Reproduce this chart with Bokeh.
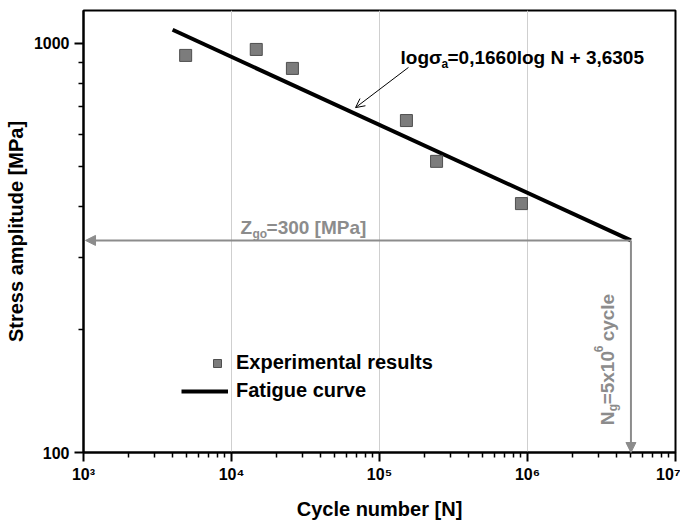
import math
from bokeh.plotting import figure
from bokeh.models import Label, Arrow, NormalHead, OpenHead, Legend, LegendItem, FixedTicker
from bokeh.embed import file_html
from bokeh.resources import INLINE

# ---- data ----
cycles = [4900, 14700, 25800, 152000, 243000, 910000]
stress = [935, 967, 869, 648, 515, 406]

curve_cycles = [4000, 5.0e6]
curve_stress = [1080, 330]

limit_cycles = 5.0e6      # N_g
limit_stress = 330        # level of the Z_go arrow as drawn

x_tick_values = [1000, 10000, 100000, 1000000, 10000000]
x_tick_labels = ["10³", "10⁴", "10⁵", "10⁶", "10⁷"]
y_tick_values = [100, 1000]
y_tick_labels = ["100", "1000"]

FONT = "Liberation Sans"
GRAY = "#8c8c8c"

p = figure(width=680, height=523, x_axis_type="log", y_axis_type="log",
           x_range=(1e3, 1e7), y_range=(100, 1204),
           output_backend="svg", toolbar_location=None,
           min_border_left=83, min_border_right=5, min_border_top=10, min_border_bottom=71,
           background_fill_color="white", border_fill_color="white")

p.outline_line_color = "black"
p.outline_line_width = 2
p.outline_line_alpha = 1

p.ygrid.visible = False
p.xgrid.grid_line_color = "#cfcfcf"
p.xgrid.grid_line_width = 1

x_minor = [m * 10 ** k for k in range(3, 7) for m in range(2, 10)]
y_minor = [m * 100 for m in range(2, 10)]
p.xaxis.ticker = FixedTicker(ticks=x_tick_values, minor_ticks=x_minor)
p.yaxis.ticker = FixedTicker(ticks=y_tick_values, minor_ticks=y_minor)
p.xgrid.ticker = FixedTicker(ticks=x_tick_values)

for ax in (p.xaxis[0], p.yaxis[0]):
    ax.axis_line_width = 2
    ax.major_tick_line_width = 2
    ax.minor_tick_line_width = 1.5
    ax.major_tick_out = 9
    ax.major_tick_in = 0
    ax.minor_tick_out = 5
    ax.minor_tick_in = 0
    ax.major_label_text_font = FONT
    ax.major_label_text_font_style = "bold"
    ax.major_label_text_font_size = "16px"
    ax.major_label_text_color = "black"
    ax.axis_label_text_font = FONT
    ax.axis_label_text_font_style = "bold"
    ax.axis_label_text_font_size = "20px"
    ax.axis_label_text_color = "black"

p.xaxis.major_label_overrides = dict(zip(x_tick_values, x_tick_labels))
p.yaxis.major_label_overrides = dict(zip(y_tick_values, y_tick_labels))
p.xaxis.axis_label = "Cycle number [N]"
p.yaxis.axis_label = "Stress amplitude [MPa]"
p.xaxis.major_label_standoff = 4
p.yaxis.major_label_standoff = 5
p.xaxis.axis_label_standoff = 12
p.yaxis.axis_label_standoff = 4

# gray limit arrows
p.add_layout(Arrow(x_start=limit_cycles, y_start=limit_stress, x_end=1032, y_end=limit_stress,
                   line_color=GRAY, line_width=2,
                   end=NormalHead(size=10, fill_color=GRAY, line_color=GRAY, line_width=1)))
p.add_layout(Arrow(x_start=limit_cycles, y_start=limit_stress, x_end=limit_cycles, y_end=100,
                   line_color=GRAY, line_width=2,
                   end=NormalHead(size=10, fill_color=GRAY, line_color=GRAY, line_width=1)))

ln = p.line(curve_cycles, curve_stress, line_color="black", line_width=4)
sc = p.scatter(cycles, stress, marker="square", size=12,
               fill_color="#7c7c7c", line_color="#4f4f4f", line_width=1)

legend_style = dict(border_line_color=None, background_fill_alpha=0,
                    label_text_font=FONT, label_text_font_style="bold", label_text_font_size="20px",
                    label_text_color="black", glyph_height=20, label_height=20,
                    padding=0, margin=0, label_standoff=8)
p.add_layout(Legend(items=[LegendItem(label="Experimental results", renderers=[sc])],
                    location=(123, 78), glyph_width=22, **legend_style))
p.add_layout(Legend(items=[LegendItem(label="Fatigue curve", renderers=[ln])],
                    location=(98, 50), glyph_width=47, **legend_style))

# leader arrow to the fatigue curve
p.add_layout(Arrow(x_start=157000, y_start=874, x_end=68900, y_end=697,
                   line_color="black", line_width=1,
                   end=OpenHead(size=9, line_color="black", line_width=1)))

def lab(x, y, text, dx=0, dy=0, size="19px", color="black", angle=0, align="left"):
    p.add_layout(Label(x=x, y=y, text=text, x_offset=dx, y_offset=dy, angle=angle,
                       text_font=FONT, text_font_style="bold", text_font_size=size,
                       text_color=color, text_baseline="alphabetic", text_align=align))

# equation
eq_x, eq_y = 138700, 924
lab(eq_x, eq_y, "logσ")
lab(eq_x, eq_y, "a", dx=41, dy=-6, size="12px")
lab(eq_x, eq_y, "=0,1660log N + 3,6305", dx=47)

# Z_go label
z_x, z_y = 11510, 355
lab(z_x, z_y, "Z", color=GRAY)
lab(z_x, z_y, "go", dx=12, dy=-7, size="12px", color=GRAY)
lab(z_x, z_y, "=300 [MPa]", dx=26, color=GRAY)

# N_g label (vertical)
n_x, n_y = 3.47e6, 116.5
a = math.pi / 2
lab(n_x, n_y, "N", color=GRAY, angle=a)
lab(n_x, n_y, "g", dx=6, dy=14, size="12px", color=GRAY, angle=a)
lab(n_x, n_y, "=5x10", dy=21, color=GRAY, angle=a)
lab(n_x, n_y, "6", dx=-9, dy=73, size="12px", color=GRAY, angle=a)
lab(n_x, n_y, "cycle", dy=84, color=GRAY, angle=a)

open("out.html", "w").write(file_html(p, INLINE))
